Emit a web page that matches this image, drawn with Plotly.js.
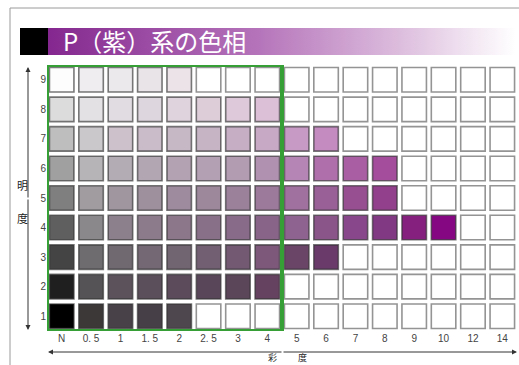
<!DOCTYPE html>
<html>
<head>
<meta charset="utf-8">
<script src="https://cdn.plot.ly/plotly-3.0.1.min.js"></script>
<style>html,body{margin:0;padding:0;background:#fff;}#chart{width:519px;height:365px;}</style>
</head>
<body>
<div id="chart"></div>
<script>
// Chroma (彩度) columns and value (明度) rows
var chromaLabels = ["N", "0. 5", "1", "1. 5", "2", "2. 5", "3", "4", "5", "6", "7", "8", "9", "10", "12", "14"];
var valueLabels = [1, 2, 3, 4, 5, 6, 7, 8, 9];
var W = "#ffffff";
// colours of each value row, one entry per chroma column (white = no colour)
var row1 = ["#000000", "#3c3838", "#484148", "#473f47", "#4f474e", W, W, W, W, W, W, W, W, W, W, W];
var row2 = ["#1f1f1f", "#555355", "#5b525b", "#5b4f5b", "#5b4b5b", "#594659", "#5a4559", "#65425f", W, W, W, W, W, W, W, W];
var row3 = ["#444444", "#6e6c6f", "#706970", "#736873", "#726572", "#725f72", "#735a72", "#7d587b", "#6b4568", "#6a3a6a", W, W, W, W, W, W];
var row4 = ["#5f5f5f", "#8b888b", "#8d808d", "#8b7b8b", "#8b768a", "#897089", "#886b88", "#886588", "#8f6390", "#8a5589", "#87478a", "#823983", "#86207f", "#850882", W, W];
var row5 = ["#7f7f7f", "#a09ca0", "#9f96a0", "#9e909d", "#9e8b9d", "#9c879b", "#9b829a", "#9c7a9b", "#a0709e", "#995f97", "#974f91", "#93408c", W, W, W, W];
var row6 = ["#a0a0a0", "#b7b4b7", "#b4acb4", "#b3a6b3", "#b3a3b2", "#b3a0b3", "#b29cb2", "#b092b0", "#b585b5", "#af6fab", "#a95ea4", "#a44d9c", W, W, W, W];
var row7 = ["#bebebe", "#cbc8cb", "#cdc2cc", "#cabcc8", "#c7b8c6", "#c6b4c5", "#c6afc5", "#c7a9c6", "#c79ac5", "#c38bc0", W, W, W, W, W, W];
var row8 = ["#dcdcdc", "#e3e1e4", "#e1dce2", "#ded6de", "#dfd3dd", "#dccdd9", "#ddc9d9", "#dcc0d8", W, W, W, W, W, W, W, W];
var row9 = ["#fdfdfd", "#efedf0", "#ebe9ec", "#e8e4e7", "#ebe3e8", W, W, W, W, W, W, W, W, W, W, W];
var rows = [row1, row2, row3, row4, row5, row6, row7, row8, row9];
var highlightCount = 8; // N .. 4 highlighted
var titleText = "P（紫）系の色相";

var xs = [], ys = [], cols = [], lineCols = [];
rows.forEach(function (r, ri) {
  r.forEach(function (c, ci) {
    xs.push(ci); ys.push(valueLabels[ri]); cols.push(c);
    lineCols.push(c === W ? "#949494" : "rgba(50,50,50,0.65)");
  });
});

var cells = {
  type: "scatter", mode: "markers", x: xs, y: ys, xaxis: "x", yaxis: "y",
  cliponaxis: false, hoverinfo: "skip",
  marker: { symbol: "square", size: 24.5, color: cols, line: { color: lineCols, width: 1.6 } }
};

var PW = 519, PH = 365;
function px(v) { return v / PW; }
function py(v) { return 1 - v / PH; }

// title bar (black block + purple gradient)
var bar = {
  type: "scatter", mode: "lines", xaxis: "x2", yaxis: "y2", hoverinfo: "skip",
  x: [28, 495, 495, 28, 28], y: [0, 0, 1, 1, 0], fill: "toself",
  line: { width: 0 },
  fillgradient: { type: "horizontal", colorscale: [[0, "#84278f"], [0.45, "#b574ba"], [0.75, "#dcbcdd"], [1, "#ffffff"]] }
};
var block = {
  type: "scatter", mode: "lines", xaxis: "x2", yaxis: "y2", hoverinfo: "skip",
  x: [0, 28, 28, 0, 0], y: [0, 0, 1, 1, 0], fill: "toself", fillcolor: "#000000",
  line: { width: 0 }
};

var tickFont = { family: "Liberation Sans Narrow, Liberation Sans, Arial, sans-serif", size: 10, color: "#444" };
var cjk = "Noto Sans CJK JP, Noto Sans CJK SC, sans-serif";

var layout = {
  width: PW, height: PH,
  margin: { l: 0, r: 0, t: 0, b: 0 },
  paper_bgcolor: "#fff", plot_bgcolor: "rgba(0,0,0,0)",
  showlegend: false,
  xaxis: {
    domain: [px(47), px(517)], range: [-0.5, chromaLabels.length - 0.5],
    tickvals: chromaLabels.map(function (_, i) { return i; }), ticktext: chromaLabels,
    showgrid: false, zeroline: false, showline: false, ticks: "", tickfont: tickFont, fixedrange: true
  },
  yaxis: {
    domain: [py(331), py(65)], range: [0.5, 9.5],
    tickvals: valueLabels, ticktext: valueLabels.map(String),
    showgrid: false, zeroline: false, showline: false, ticks: "", tickfont: tickFont, fixedrange: true
  },
  xaxis2: { domain: [px(20), px(515)], range: [0, 495], visible: false, fixedrange: true },
  yaxis2: { domain: [py(55), py(28)], range: [0, 1], visible: false, fixedrange: true, anchor: "x2" },
  shapes: [
    { type: "rect", xref: "x", yref: "y", x0: -0.5, x1: highlightCount - 0.5, y0: 0.5, y1: valueLabels.length + 0.5,
      line: { color: "#36a036", width: 4 }, fillcolor: "rgba(0,0,0,0)" },
    { type: "line", xref: "paper", yref: "paper", x0: px(10), x1: px(10), y0: 0, y1: py(8), line: { color: "#9a9a9a", width: 1 } },
    { type: "line", xref: "paper", yref: "paper", x0: px(10), x1: 1, y0: py(8), y1: py(8), line: { color: "#9a9a9a", width: 1 } }
  ],
  annotations: [
    { xref: "paper", yref: "paper", x: px(61), y: py(41), xanchor: "left", yanchor: "middle", showarrow: false,
      text: titleText, font: { family: cjk, size: 24, color: "#ffffff" } },
    // value axis arrow
    { xref: "paper", yref: "paper", x: px(28), y: py(67), ax: 0, ay: 132, text: "", showarrow: true,
      arrowhead: 2, arrowsize: 1, arrowwidth: 1, arrowcolor: "#333" },
    { xref: "paper", yref: "paper", x: px(28), y: py(330), ax: 0, ay: -132, text: "", showarrow: true,
      arrowhead: 2, arrowsize: 1, arrowwidth: 1, arrowcolor: "#333" },
    // chroma axis arrow
    { xref: "paper", yref: "paper", x: px(517), y: py(352), ax: -235, ay: 0, text: "", showarrow: true,
      arrowhead: 2, arrowsize: 1, arrowwidth: 1, arrowcolor: "#333" },
    { xref: "paper", yref: "paper", x: px(48), y: py(352), ax: 235, ay: 0, text: "", showarrow: true,
      arrowhead: 2, arrowsize: 1, arrowwidth: 1, arrowcolor: "#333" },
    { xref: "paper", yref: "paper", x: px(15), y: py(185), showarrow: false, text: "明", font: { family: cjk, size: 11, color: "#222" } },
    { xref: "paper", yref: "paper", x: px(15), y: py(218), showarrow: false, text: "度", font: { family: cjk, size: 11, color: "#222" } },
    { xref: "paper", yref: "paper", x: px(272), y: py(364.5), yanchor: "bottom", borderpad: 0, showarrow: false, text: "彩", font: { family: cjk, size: 9, color: "#222" } },
    { xref: "paper", yref: "paper", x: px(302), y: py(364.5), yanchor: "bottom", borderpad: 0, showarrow: false, text: "度", font: { family: cjk, size: 9, color: "#222" } }
  ]
};

Plotly.newPlot("chart", [block, bar, cells], layout, { staticPlot: true, displayModeBar: false });
</script>
</body>
</html>
